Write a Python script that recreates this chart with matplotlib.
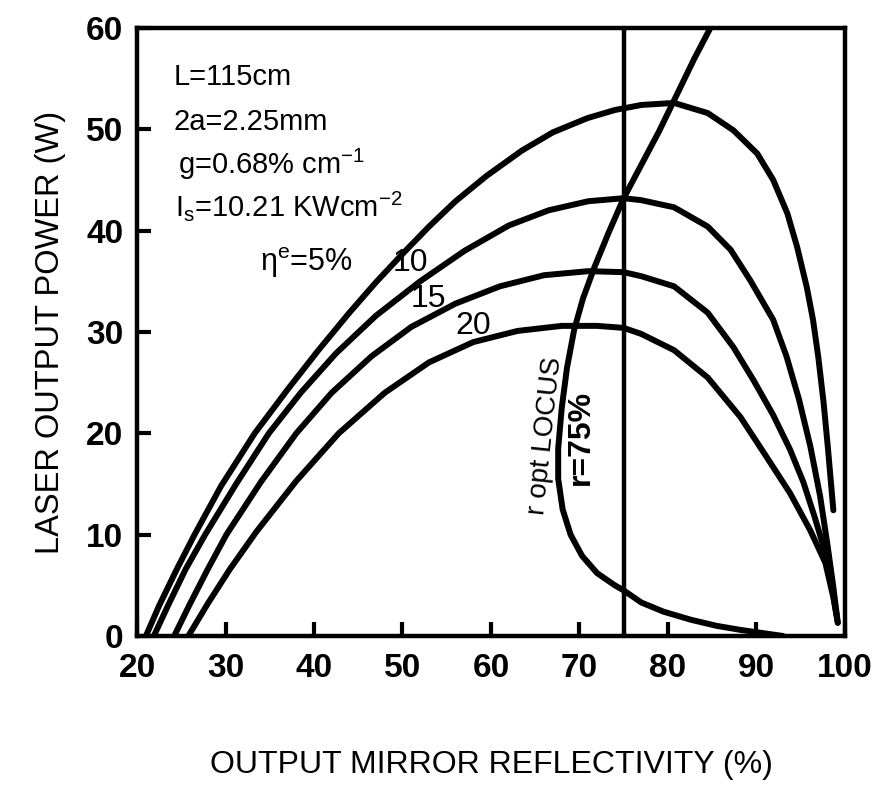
import numpy as np
import matplotlib
matplotlib.use("Agg")
import matplotlib.pyplot as plt

plt.rcParams['font.family'] = ['Liberation Sans', 'DejaVu Sans']
plt.rcParams['mathtext.default'] = 'regular'

# output power (W) vs output mirror reflectivity (%), one curve per eta^e
r_5 = [21.0, 22.5, 24.5, 26.5, 29.5, 33.3, 37.0, 40.5, 44.0, 47.0, 50.0, 53.0, 56.0, 59.5,
       63.5, 67.0, 70.9, 74.0, 77.0, 80.7, 84.5, 87.4, 90.1, 91.9, 93.5, 94.6, 95.7, 96.4,
       97.0, 97.6, 98.1, 98.7]
p_5 = [0.0, 3.0, 6.6, 10.0, 14.8, 20.0, 24.3, 28.2, 31.9, 34.9, 37.7, 40.4, 42.9, 45.4,
       47.9, 49.7, 51.1, 51.9, 52.4, 52.6, 51.6, 49.9, 47.6, 45.0, 41.7, 38.4, 34.4, 31.2,
       27.5, 23.0, 18.4, 12.4]

r_10 = [21.9, 23.5, 25.5, 27.7, 31.2, 34.9, 38.5, 42.5, 47.0, 52.0, 57.0, 62.0, 66.5, 71.0,
        75.0, 77.0, 80.7, 84.5, 87.1, 89.3, 91.9, 93.4, 94.8, 96.1, 97.2, 98.0, 98.7, 99.2]
p_10 = [0.0, 3.0, 6.6, 10.0, 15.0, 20.0, 24.0, 27.9, 31.6, 35.0, 38.0, 40.5, 42.0, 42.9,
        43.2, 43.0, 42.3, 40.4, 38.1, 35.1, 31.2, 27.6, 23.4, 18.7, 13.8, 9.2, 4.8, 1.3]

r_15 = [24.2, 26.0, 28.0, 30.1, 34.0, 38.0, 42.0, 46.5, 51.0, 56.0, 61.0, 66.0, 71.0, 75.0,
        77.0, 80.7, 84.5, 87.4, 89.7, 91.9, 93.8, 95.3, 96.6, 97.8, 98.5, 99.1]
p_15 = [0.0, 3.2, 6.6, 10.0, 15.2, 20.0, 24.0, 27.6, 30.5, 32.8, 34.5, 35.6, 36.0, 35.9,
        35.5, 34.5, 31.9, 28.5, 25.2, 21.8, 18.4, 15.2, 11.7, 8.2, 5.0, 1.9]

r_20 = [25.8, 28.0, 30.5, 33.5, 38.0, 42.8, 48.0, 53.0, 58.0, 63.0, 68.0, 72.0, 75.0, 77.0,
        80.7, 84.5, 88.2, 91.2, 93.8, 96.1, 97.8, 98.7, 99.2]
p_20 = [0.0, 3.2, 6.6, 10.3, 15.3, 20.0, 24.0, 27.0, 29.0, 30.1, 30.6, 30.6, 30.4, 29.8,
        28.2, 25.5, 21.6, 17.6, 14.1, 10.4, 7.2, 3.8, 1.3]

# optimum reflectivity locus
r_locus = [84.8, 83.0, 81.0, 79.0, 77.0, 75.0, 73.3, 71.7, 70.4, 69.4, 68.6, 68.0, 67.6,
           67.6, 68.1, 69.0, 70.3, 72.0, 74.0, 75.0, 77.0, 79.5, 82.6, 85.5, 88.2, 91.0, 93.0]
p_locus = [60.0, 57.0, 53.4, 49.8, 46.5, 43.2, 39.8, 36.4, 33.3, 30.2, 26.5, 22.5, 18.5,
           15.5, 12.5, 10.0, 7.9, 6.2, 5.0, 4.5, 3.3, 2.4, 1.6, 1.0, 0.6, 0.25, 0.0]

r_fixed = 75

curves = [(r_5, p_5), (r_10, p_10), (r_15, p_15), (r_20, p_20)]

fig = plt.figure(figsize=(8.87, 7.87), dpi=100)
ax = fig.add_axes([0.1545, 0.1919, 0.798, 0.7726])

lw = 4.3
for r, p in curves:
    ax.plot(r, p, color='black', lw=lw, solid_capstyle='round', solid_joinstyle='round')
ax.plot(r_locus, p_locus, color='black', lw=lw, solid_capstyle='round', solid_joinstyle='round')
ax.axvline(r_fixed, color='black', lw=3.2)

ax.set_xlim(20, 100)
ax.set_ylim(0, 60)
ax.set_xticks(np.arange(20, 101, 10))
ax.set_yticks(np.arange(0, 61, 10))
ax.tick_params(direction='in', length=10, width=3, labelsize=24)
ax.tick_params(axis='x', pad=12)
ax.tick_params(axis='y', pad=10)
for lab in ax.get_xticklabels() + ax.get_yticklabels():
    lab.set_fontweight('bold')
for s in ax.spines.values():
    s.set_linewidth(3.2)

ax.set_xlabel('OUTPUT MIRROR REFLECTIVITY (%)', fontsize=23, labelpad=48)
ax.set_ylabel('LASER OUTPUT POWER (W)', fontsize=23.5, labelpad=14)

params = ['L=115cm', '2a=2.25mm', 'g=0.68% cm$^{-1}$', 'I$_s$=10.21 KWcm$^{-2}$']
ys = [55.2, 50.7, 46.5, 42.4]
xs = [24.1, 24.1, 24.6, 24.3]
for t, x, y in zip(params, xs, ys):
    ax.text(x, y, t, fontsize=21, va='center', ha='left')

ax.text(39.2, 36.8, '$\\eta^e$=5%', fontsize=22, va='center', ha='center')
ax.text(50.9, 36.8, '10', fontsize=23, va='center', ha='center')
ax.text(52.9, 33.3, '15', fontsize=23, va='center', ha='center')
ax.text(58.0, 30.6, '20', fontsize=23, va='center', ha='center')

ax.text(66.2, 19.8, 'r opt LOCUS', fontsize=20, rotation=84, va='center', ha='center')
ax.text(70.2, 19.6, 'r=75%', fontsize=23, fontweight='bold', rotation=90, va='center', ha='center')

fig.savefig('out.png', dpi=100)
